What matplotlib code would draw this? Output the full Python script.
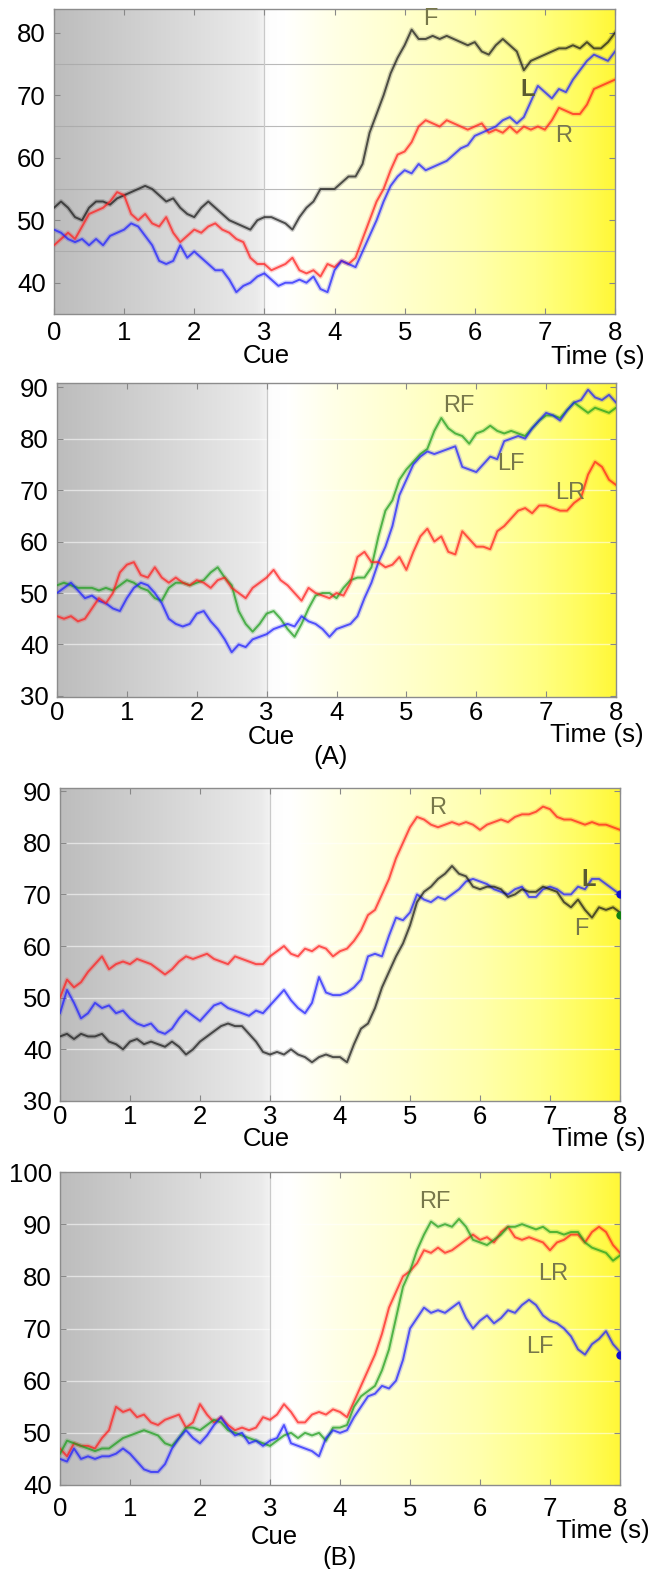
import numpy as np
import matplotlib
matplotlib.use("Agg")
import matplotlib.pyplot as plt
from matplotlib.colors import LinearSegmentedColormap

plt.rcParams['font.family'] = ['Liberation Sans', 'DejaVu Sans']

# ---------------- data (time in s, sampled every 0.1 s) ----------------
TIME = np.linspace(0, 8, 81)

# Panel 1 (A, top)
p1_F = [52, 53, 52, 50.5, 50, 52, 53, 53, 52.5, 53.5,
        54, 54.5, 55, 55.5, 55, 54, 53, 53.5, 52, 51,
        50.5, 52, 53, 52, 51, 50, 49.5, 49, 48.5, 50,
        50.5, 50.5, 50, 49.5, 48.5, 50.5, 52, 53, 55, 55,
        55, 56, 57, 57, 59, 64, 67, 70, 73.5, 76,
        78, 80.5, 79, 79, 79.5, 79, 79.5, 79, 78.5, 78,
        78.5, 77, 76.5, 78, 79, 78, 77, 74, 75.5, 76,
        76.5, 77, 77.5, 77.5, 78, 77.5, 78.5, 77.5, 77.5, 78.5, 80]
p1_R = [46, 47, 48, 47, 49, 51, 51.5, 52, 53, 54.5,
        54, 51, 50, 51, 49.5, 49, 50.5, 48, 46.5, 47.5,
        48.5, 48, 49, 49.5, 48.5, 48, 47, 46.5, 44, 43,
        43, 42, 42.5, 43, 44, 42, 41.5, 42, 41, 43,
        42.5, 43.5, 43, 44, 47, 50, 53, 55, 58, 60.5,
        61, 62.5, 65, 66, 65.5, 65, 66, 65.5, 65, 64.5,
        65, 65.5, 64, 64.5, 64, 65, 64, 65, 64.5, 65,
        64.5, 66, 68, 67.5, 67, 67, 68.5, 71, 71.5, 72, 72.5]
p1_L = [48.5, 48, 47, 46.5, 47, 46, 47, 46, 47.5, 48,
        48.5, 49.5, 49, 47.5, 46, 43.5, 43, 43.5, 46, 44,
        45, 44, 43, 42, 42, 40.5, 38.5, 39.5, 40, 41,
        41.5, 40.5, 39.5, 40, 40, 40.5, 40, 41, 39, 38.5,
        42, 43.5, 43, 42.5, 45, 47.5, 50, 53, 55.5, 57,
        58, 57.5, 59, 58, 58.5, 59, 59.5, 60.5, 61.5, 62,
        63.5, 64, 64.5, 65, 66, 66.5, 65.5, 66.5, 69, 71.5,
        70.5, 69.5, 71, 70.5, 72.5, 74, 75.5, 76.5, 76, 75.5, 77]

# Panel 2 (A, bottom)
p2_RF = [51.5, 52, 51.5, 51, 51, 51, 50.5, 51, 50.5, 51.5,
         52.5, 52, 51, 50.5, 49, 48.5, 51, 52, 52, 51.5,
         52, 52.5, 54, 55, 53, 51.5, 46.5, 44, 42.5, 44,
         46, 46.5, 45, 43, 41.5, 44, 47, 49.5, 50, 50,
         49, 51, 52.5, 53, 53, 55, 61, 66, 68, 72,
         74, 75.5, 77, 78, 81.5, 84, 82, 81, 80.5, 79,
         81, 81.5, 82.5, 81.5, 81, 81.5, 81, 80.5, 82, 83.5,
         84.5, 84.5, 84, 85.5, 87, 86, 85, 86, 85.5, 85, 86]
p2_LF = [50, 51, 52, 50.5, 49, 49.5, 48.5, 48, 47, 46.5,
         49, 51, 52, 51.5, 50, 48, 45, 44, 43.5, 44,
         46, 46.5, 44.5, 43, 41, 38.5, 40, 39.5, 41, 41.5,
         42, 43, 43.5, 44, 43.5, 45.5, 44.5, 44, 43, 41.5,
         43, 43.5, 44, 45.5, 49, 52, 56, 59, 63, 69,
         72, 75, 76.5, 77.5, 77, 77.5, 78, 78.5, 74.5, 74,
         73.5, 75, 76.5, 76, 79.5, 80, 80.5, 80, 82, 83.5,
         85, 84.5, 83.5, 85.5, 87, 87.5, 89.5, 88, 87.5, 88.5, 87]
p2_LR = [45.5, 45, 45.5, 44.5, 45, 47, 49, 48, 50, 54,
         55.5, 56, 53.5, 53, 55, 53, 52, 53, 52, 51.5,
         52.5, 52, 51, 52.5, 53, 51, 50, 49, 51, 52,
         53, 54.5, 52.5, 51.5, 50, 48.5, 51, 50, 49.5, 49,
         50, 49.5, 52, 57, 58, 56, 56, 55, 55.5, 57,
         54.5, 58, 61, 62.5, 60, 61, 58, 57.5, 62, 60.5,
         59, 59, 58.5, 62, 63, 64.5, 66, 66.5, 65.5, 67,
         67, 66.5, 66, 66, 67.5, 68.5, 73, 75.5, 74.5, 72, 71]

# Panel 3 (B, top)
p3_R = [50, 53.5, 52, 53, 55, 56.5, 58, 55.5, 56.5, 57,
        56.5, 57.5, 57, 56.5, 55.5, 54.5, 55.5, 57, 58, 57.5,
        58, 58.5, 57.5, 57, 56.5, 58, 57.5, 57, 56.5, 56.5,
        58, 59, 60, 58.5, 58, 59.5, 59, 60, 59.5, 58,
        59, 59.5, 61, 63, 66, 67, 70, 73, 77, 80,
        83, 85, 84.5, 83.5, 83, 83.5, 84, 83.5, 84, 83.5,
        82.5, 83.5, 84, 84.5, 84, 85, 85.5, 85.5, 86, 87,
        86.5, 85, 84.5, 84.5, 84, 83.5, 84, 83.5, 83.5, 83, 82.5]
p3_L = [47, 51.5, 49, 46, 47, 49, 48, 48.5, 47, 47.5,
        46, 45, 44.5, 45, 43.5, 43, 44, 46, 47.5, 46.5,
        45.5, 47, 48.5, 49, 48, 47.5, 47, 46.5, 47.5, 47,
        48.5, 50, 51.5, 49.5, 48, 47, 49, 54, 51, 50.5,
        50.5, 51, 52, 53.5, 58, 58.5, 58, 62, 65.5, 65,
        66.5, 70, 69, 68.5, 69.5, 69, 70, 71, 72.5, 73,
        72.5, 72, 71, 70.5, 70, 71, 71.5, 69.5, 69.5, 71,
        71.5, 71, 70, 70, 71.5, 71, 73, 73, 72, 71, 70]
p3_F = [42.5, 43, 42, 43, 42.5, 42.5, 43, 41.5, 41, 40,
        41.5, 42, 41, 41.5, 41, 40.5, 41.5, 40.5, 39, 40,
        41.5, 42.5, 43.5, 44.5, 45, 44.5, 44.5, 43, 41.5, 39.5,
        39, 39.5, 39, 40, 39, 38.5, 37.5, 38.5, 39, 38.5,
        38.5, 37.5, 41, 44, 45, 48, 52, 55, 58, 60.5,
        64, 68.5, 70.5, 71.5, 73, 74, 75.5, 74, 73.5, 71.5,
        71, 71.5, 71.5, 71, 69.5, 70, 71, 70.5, 70.5, 71.5,
        71, 70.5, 68.5, 67.5, 69, 67, 65.5, 67.5, 67, 67.5, 66.5]

# Panel 4 (B, bottom)
p4_LR = [47, 45.5, 48, 47.5, 47.5, 47, 49, 50.5, 55, 54,
         54.5, 53, 53.5, 52, 51.5, 52.5, 53, 53.5, 51, 52,
         55.5, 53.5, 52, 53, 51.5, 50.5, 51, 50.5, 51, 53,
         52.5, 53.5, 55.5, 54, 52, 52, 53.5, 54, 53.5, 54.5,
         54, 53, 56, 59, 62, 65, 69, 74, 77, 80,
         81, 82.5, 85, 84.5, 85.5, 84.5, 85, 86, 87, 88,
         87, 87.5, 86.5, 88.5, 89.5, 87.5, 87, 87.5, 87, 86.5,
         85, 86.5, 87, 88, 88, 86.5, 88.5, 89.5, 88.5, 86, 84.5]
p4_RF = [46, 48.5, 48, 47.5, 47, 46.5, 47, 47, 48, 49,
         49.5, 50, 50.5, 50, 49.5, 48, 47.5, 49, 51, 51,
         50.5, 51.5, 52.5, 52, 50.5, 50, 49.5, 49, 48.5, 48,
         47.5, 48.5, 49.5, 50, 49, 50, 49.5, 50, 48.5, 51,
         51, 51.5, 55, 57, 58, 59, 62, 66, 72, 78,
         81, 85, 88, 90.5, 89.5, 90, 89.5, 91, 89.5, 87,
         86.5, 86, 87, 88, 89.5, 89.5, 90, 89.5, 89, 89.5,
         88.5, 88.5, 88, 88.5, 88.5, 86.5, 85.5, 85, 84.5, 83, 84]
p4_LF = [45, 44.5, 47, 45, 45.5, 45, 45.5, 45.5, 46, 47,
         46, 44.5, 43, 42.5, 42.5, 44, 47, 49, 50.5, 49,
         48, 49.5, 51.5, 53, 51, 49.5, 50, 48, 48.5, 47.5,
         48.5, 49, 51.5, 48, 47.5, 47, 46.5, 45.5, 49, 50.5,
         50, 50.5, 53, 55, 57, 57.5, 59, 58.5, 60, 64,
         70, 72, 74, 73, 73.5, 73, 74, 75, 72, 70,
         71.5, 72.5, 71, 72, 73.5, 73, 74.5, 75.5, 74.5, 72.5,
         71.5, 71, 70, 68.5, 66, 65, 67, 68, 69.5, 67, 65.5]

X_TICKS = [0, 1, 2, 3, 4, 5, 6, 7, 8]

# ---------------- styling ----------------
W, H = 652, 1569
DPI = 100
fig = plt.figure(figsize=(W / DPI, H / DPI), dpi=DPI)

RED = '#ff1e1e'
BLUE = '#1e1eff'
BLACK = '#1a1a1a'
GREEN = '#1e9e1e'
LABEL_C = '#77774a'
FS = 18.5

bg_cmap = LinearSegmentedColormap.from_list('bg', [
    (0.000, (0.74, 0.74, 0.74)),
    (0.180, (0.83, 0.83, 0.83)),
    (0.360, (0.92, 0.92, 0.92)),
    (0.374, (0.95, 0.95, 0.95)),
    (0.376, (0.99, 0.99, 0.99)),
    (0.410, (1.00, 1.00, 1.00)),
    (0.500, (1.00, 1.00, 0.90)),
    (0.625, (1.00, 1.00, 0.80)),
    (0.750, (1.00, 1.00, 0.68)),
    (0.860, (1.00, 1.00, 0.52)),
    (0.940, (1.00, 0.99, 0.36)),
    (1.000, (1.00, 0.97, 0.22)),
])


def px_axes(left, top, right, bottom):
    return [left / W, 1 - bottom / H, (right - left) / W, (bottom - top) / H]


def fig_text(x, y, s, **kw):
    fig.text(x / W, 1 - y / H, s, fontsize=FS, color='black', **kw)


def make_panel(rect, ylim, yticks, series, labels, xpad, grid_vals, grid_style,
               end_dots=()):
    ax = fig.add_axes(px_axes(*rect))
    ax.set_xlim(0, 8)
    ax.set_ylim(*ylim)
    grad = np.linspace(0, 1, 512).reshape(1, -1)
    ax.imshow(grad, cmap=bg_cmap, aspect='auto', extent=[0, 8, ylim[0], ylim[1]],
              zorder=0, interpolation='bilinear')
    for g in grid_vals:
        ax.axhline(g, **grid_style, zorder=1)
    ax.axvline(3, color='#c9c9c9', lw=0.9, zorder=1)
    for vals, col in series:
        ax.plot(TIME, vals, color=col, lw=3.4, alpha=0.2, zorder=2)
        ax.plot(TIME, vals, color=col, lw=1.4, alpha=0.72, zorder=3)
    for (tx, ty, s, bold) in labels:
        ax.text(tx, ty, s, fontsize=17, color=LABEL_C if not bold else '#5a5a30',
                fontweight='bold' if bold else 'normal', ha='center', va='center',
                zorder=5)
    for (yv, col) in end_dots:
        ax.plot([8], [yv], marker='o', ms=5, color=col, clip_on=True, zorder=4)
    ax.set_xticks(X_TICKS)
    ax.set_yticks(yticks)
    ax.tick_params(direction='in', top=True, right=True, length=4, width=0.8,
                   colors='#888888', labelcolor='black', labelsize=FS)
    ax.tick_params(axis='x', pad=xpad)
    ax.tick_params(axis='y', pad=6)
    for sp in ax.spines.values():
        sp.set_color('#8c8c8c')
        sp.set_linewidth(1.0)
    return ax


grid_dark = dict(color='#a8a8a8', lw=0.8, alpha=0.8)
grid_light = dict(color='white', lw=1.0, alpha=0.55)

# Panel 1
make_panel((54, 9, 615, 314), (35.0, 83.8), [40, 50, 60, 70, 80],
           [(p1_F, BLACK), (p1_R, RED), (p1_L, BLUE)],
           [(5.37, 82.2, 'F', False), (6.75, 71.0, 'L', True), (7.27, 63.5, 'R', False)],
           xpad=5, grid_vals=[45, 55, 65, 75], grid_style=grid_dark)
fig_text(266, 356, 'Cue', ha='center', va='center')
fig_text(551, 357, 'Time (s)', ha='left', va='center')

# Panel 2
make_panel((57, 383, 616, 697), (29.8, 90.8), [30, 40, 50, 60, 70, 80, 90],
           [(p2_RF, GREEN), (p2_LF, BLUE), (p2_LR, RED)],
           [(5.75, 86.3, 'RF', False), (6.5, 75.0, 'LF', False), (7.35, 69.5, 'LR', False)],
           xpad=3, grid_vals=[40, 50, 60, 70, 80], grid_style=grid_light)
fig_text(271, 737, 'Cue', ha='center', va='center')
fig_text(550, 735, 'Time (s)', ha='left', va='center')
fig_text(331, 757, '(A)', ha='center', va='center')

# Panel 3
make_panel((60, 788, 620, 1101), (30.0, 90.6), [30, 40, 50, 60, 70, 80, 90],
           [(p3_R, RED), (p3_L, BLUE), (p3_F, BLACK)],
           [(5.4, 86.8, 'R', False), (7.55, 72.8, 'L', True), (7.45, 63.3, 'F', False)],
           xpad=3, grid_vals=[40, 50, 60, 70, 80], grid_style=grid_light,
           end_dots=[(70, '#1010d0'), (66, '#108010')])
fig_text(266, 1139, 'Cue', ha='center', va='center')
fig_text(552, 1139, 'Time (s)', ha='left', va='center')

# Panel 4
make_panel((60, 1172, 620, 1485), (40, 100), [40, 50, 60, 70, 80, 90, 100],
           [(p4_LR, RED), (p4_RF, GREEN), (p4_LF, BLUE)],
           [(5.35, 94.2, 'RF', False), (7.05, 80.5, 'LR', False), (6.85, 66.5, 'LF', False)],
           xpad=9, grid_vals=[50, 60, 70, 80, 90], grid_style=grid_light,
           end_dots=[(65, '#1010d0')])
fig_text(274, 1537, 'Cue', ha='center', va='center')
fig_text(556, 1531, 'Time (s)', ha='left', va='center')
fig_text(340, 1558, '(B)', ha='center', va='center')

fig.savefig('out.png', dpi=DPI)
